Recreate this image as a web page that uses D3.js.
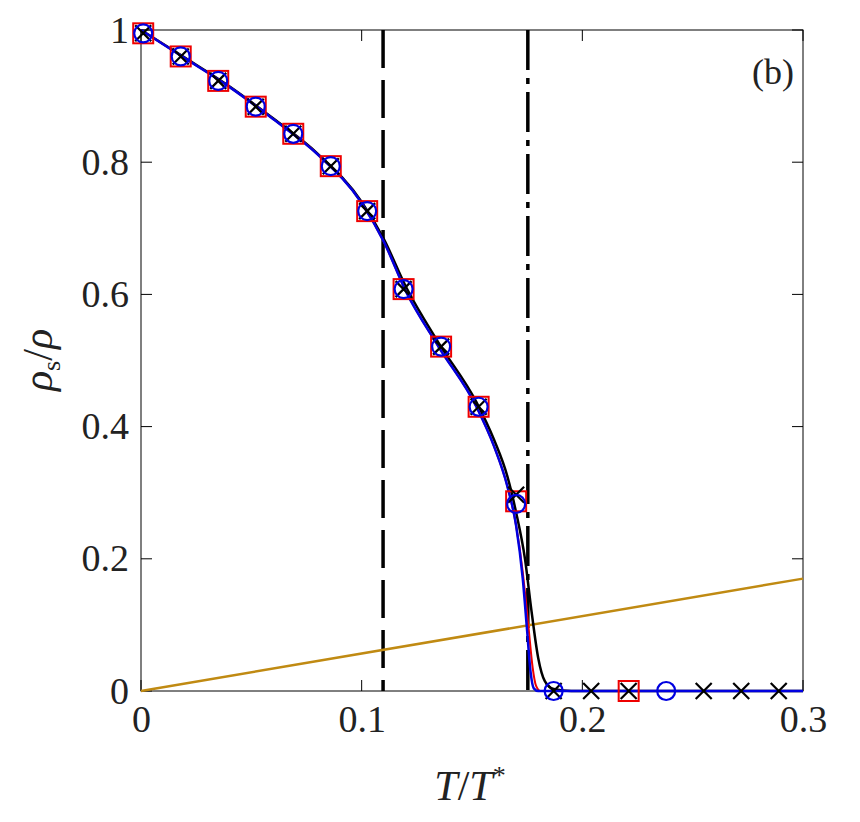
<!DOCTYPE html>
<html><head><meta charset="utf-8">
<script src="https://cdn.jsdelivr.net/npm/d3@7"></script>
<style>body{margin:0;background:#fff}text{font-family:"Liberation Serif","DejaVu Serif",serif}</style>
</head><body><svg id="c" width="860" height="822"></svg>
<script>
// marker data
var tMain = [0.001, 0.018, 0.035, 0.052, 0.069, 0.086, 0.1025, 0.119, 0.136, 0.153, 0.170];
var rhoMain = [0.995, 0.960, 0.923, 0.884, 0.843, 0.794, 0.726, 0.608, 0.521, 0.430, 0.287];
var tCross = tMain.concat([0.187, 0.204, 0.221, 0.255, 0.272, 0.289]);
var rhoCross = rhoMain.slice(0, 10).concat([0.297, 0, 0, 0, 0, 0, 0]);
var tSquare = tMain.concat([0.221]);
var rhoSquare = rhoMain.concat([0]);
var tCircle = tMain.concat([0.187, 0.238]);
var rhoCircle = rhoMain.slice(0, 10).concat([0.283, 0, 0]);
// curves
var tBlue = [0, 0.02, 0.04, 0.06, 0.08, 0.1, 0.11, 0.12, 0.135, 0.152, 0.16, 0.166, 0.170, 0.173, 0.175, 0.1765, 0.178, 0.18, 0.3];
var rhoBlue = [1, 0.957, 0.914, 0.865, 0.812, 0.738, 0.68, 0.605, 0.52, 0.43, 0.37, 0.31, 0.25, 0.17, 0.09, 0.03, 0.004, 0, 0];
var tRed = [0, 0.02, 0.04, 0.06, 0.08, 0.1, 0.11, 0.12, 0.135, 0.152, 0.16, 0.166, 0.170, 0.173, 0.1755, 0.1775, 0.179, 0.181, 0.3];
var rhoRed = [1, 0.957, 0.914, 0.865, 0.812, 0.738, 0.68, 0.605, 0.52, 0.43, 0.37, 0.31, 0.25, 0.18, 0.1, 0.035, 0.008, 0, 0];
var tBlack = [0, 0.02, 0.04, 0.06, 0.08, 0.1, 0.11, 0.12, 0.135, 0.152, 0.16, 0.166, 0.170, 0.174, 0.177, 0.18, 0.183, 0.187, 0.195, 0.3];
var rhoBlack = [1, 0.958, 0.915, 0.866, 0.813, 0.740, 0.684, 0.612, 0.526, 0.437, 0.38, 0.325, 0.27, 0.2, 0.12, 0.05, 0.015, 0.003, 0, 0];
var tGold = [0, 0.3];
var rhoGold = [0, 0.17];
var vLong = 0.1097, vDashDot = 0.1753;
var xTicks = [0, 0.1, 0.2, 0.3], yTicks = [0, 0.2, 0.4, 0.6, 0.8, 1];

var svg = d3.select("#c");
var x = d3.scaleLinear().domain([0, 0.3]).range([141, 803]);
var y = d3.scaleLinear().domain([0, 1]).range([691, 30]);

svg.append("rect").attr("x", 141).attr("y", 30).attr("width", 662).attr("height", 661)
    .attr("fill", "none").attr("stroke", "#000").attr("stroke-width", 1);

var xAxis = d3.axisBottom(x).tickValues(xTicks).tickSize(0).tickPadding(14)
    .tickFormat(function (d) { return d === 0 ? "0" : d3.format(".1f")(d); });
var yAxis = d3.axisLeft(y).tickValues(yTicks).tickSize(0).tickPadding(12)
    .tickFormat(function (d) { return d === 0 || d === 1 ? String(d) : d3.format(".1f")(d); });
svg.append("g").attr("transform", "translate(0,691)").call(xAxis);
svg.append("g").attr("transform", "translate(141,0)").call(yAxis);
svg.selectAll(".domain").remove();
svg.selectAll(".tick text").attr("font-size", 38).attr("fill", "#222")
    .attr("font-family", "Liberation Serif");
// inner ticks
xTicks.forEach(function (t) {
    svg.append("line").attr("x1", x(t)).attr("x2", x(t)).attr("y1", 691).attr("y2", 680).attr("stroke", "#000");
    svg.append("line").attr("x1", x(t)).attr("x2", x(t)).attr("y1", 30).attr("y2", 41).attr("stroke", "#000");
});
yTicks.forEach(function (t) {
    svg.append("line").attr("x1", 141).attr("x2", 152).attr("y1", y(t)).attr("y2", y(t)).attr("stroke", "#000");
    svg.append("line").attr("x1", 803).attr("x2", 792).attr("y1", y(t)).attr("y2", y(t)).attr("stroke", "#000");
});

// vertical lines
svg.append("line").attr("x1", x(vLong)).attr("x2", x(vLong)).attr("y1", 30).attr("y2", 691)
    .attr("stroke", "#000").attr("stroke-width", 3.5).attr("stroke-dasharray", "38,12");
svg.append("line").attr("x1", x(vDashDot)).attr("x2", x(vDashDot)).attr("y1", 30).attr("y2", 691)
    .attr("stroke", "#000").attr("stroke-width", 3.5).attr("stroke-dasharray", "40,8,6,8");

function curve(ts, vs, color, w, monotone) {
    var line = d3.line().x(function (d) { return x(d[0]); }).y(function (d) { return y(d[1]); });
    if (monotone) line.curve(d3.curveMonotoneX);
    svg.append("path").datum(d3.zip(ts, vs)).attr("d", line)
        .attr("fill", "none").attr("stroke", color).attr("stroke-width", w);
}
curve(tGold, rhoGold, "#c08a12", 2.5, false);
curve(tBlack, rhoBlack, "#000", 2.5, true);
curve(tRed, rhoRed, "#e00", 2, true);
curve(tBlue, rhoBlue, "#0000e0", 2.5, true);

// markers
d3.zip(tSquare, rhoSquare).forEach(function (d) {
    svg.append("rect").attr("x", x(d[0]) - 10).attr("y", y(d[1]) - 10).attr("width", 20).attr("height", 20)
        .attr("fill", "none").attr("stroke", "#e00").attr("stroke-width", 2);
});
d3.zip(tCross, rhoCross).forEach(function (d) {
    var cx = x(d[0]), cy = y(d[1]), s = 8;
    svg.append("path").attr("d", "M" + (cx - s) + "," + (cy - s) + "L" + (cx + s) + "," + (cy + s) +
        "M" + (cx - s) + "," + (cy + s) + "L" + (cx + s) + "," + (cy - s))
        .attr("stroke", "#000").attr("stroke-width", 2.2);
});
d3.zip(tCircle, rhoCircle).forEach(function (d) {
    svg.append("circle").attr("cx", x(d[0])).attr("cy", y(d[1])).attr("r", 9)
        .attr("fill", "none").attr("stroke", "#0000e0").attr("stroke-width", 2.2);
});

svg.append("text").attr("x", 794).attr("y", 84).attr("text-anchor", "end")
    .attr("font-size", 36).attr("fill", "#222").text("(b)");

// axis titles
var xl = svg.append("text").attr("x", 470).attr("y", 800).attr("text-anchor", "middle")
    .attr("font-size", 42).attr("fill", "#222");
xl.append("tspan").attr("font-style", "italic").text("T");
xl.append("tspan").text("/");
xl.append("tspan").attr("font-style", "italic").text("T");
xl.append("tspan").attr("font-size", 26).attr("dy", -16).text("*");

var yl = svg.append("text").attr("transform", "translate(52,360) rotate(-90)").attr("text-anchor", "middle")
    .attr("font-size", 42).attr("fill", "#222");
yl.append("tspan").attr("font-style", "italic").text("ρ");
yl.append("tspan").attr("font-size", 26).attr("dy", 8).text("s");
yl.append("tspan").attr("dy", -8).text("/");
yl.append("tspan").attr("font-style", "italic").text("ρ");
</script></body></html>
